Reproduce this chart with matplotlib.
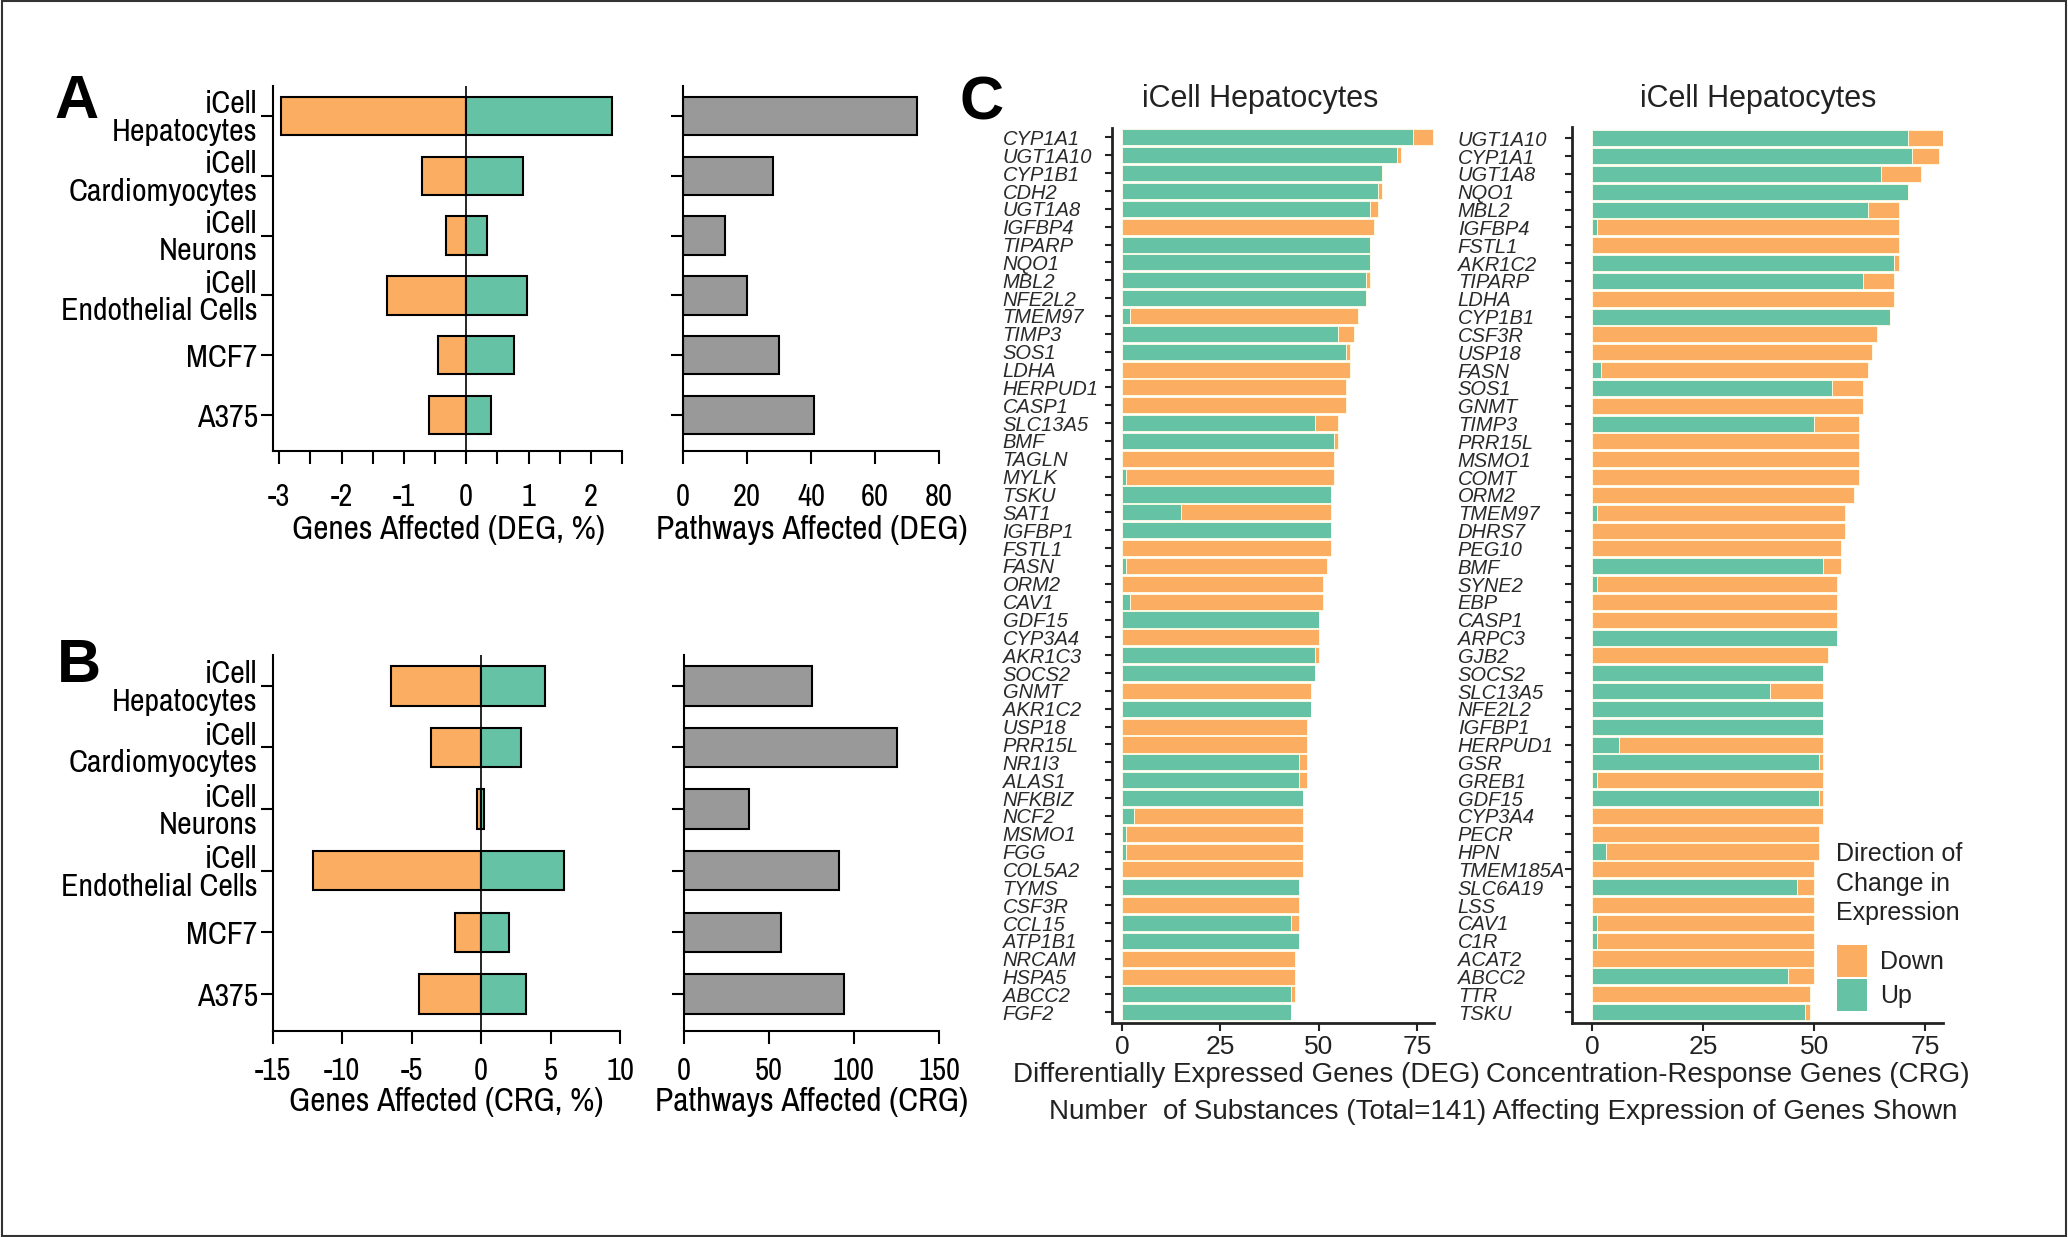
import matplotlib
matplotlib.use('Agg')
import matplotlib.pyplot as plt
import numpy as np
from matplotlib.patches import Rectangle, Patch
from matplotlib.ticker import MultipleLocator

# ---------------- data ----------------
cell_lines = ['iCell\nHepatocytes', 'iCell\nCardiomyocytes', 'iCell\nNeurons',
              'iCell\nEndothelial Cells', 'MCF7', 'A375']
deg_down_pct = [-2.97, -0.71, -0.33, -1.27, -0.45, -0.59]
deg_up_pct = [2.34, 0.91, 0.34, 0.98, 0.77, 0.40]
deg_pathways = [73, 28, 13, 20, 30, 41]
crg_down_pct = [-6.5, -3.6, -0.3, -12.1, -1.9, -4.5]
crg_up_pct = [4.6, 2.9, 0.2, 6.0, 2.0, 3.2]
crg_pathways = [75, 125, 38, 91, 57, 94]

deg_genes = ['CYP1A1', 'UGT1A10', 'CYP1B1', 'CDH2', 'UGT1A8', 'IGFBP4', 'TIPARP', 'NQO1',
             'MBL2', 'NFE2L2', 'TMEM97', 'TIMP3', 'SOS1', 'LDHA', 'HERPUD1', 'CASP1',
             'SLC13A5', 'BMF', 'TAGLN', 'MYLK', 'TSKU', 'SAT1', 'IGFBP1', 'FSTL1', 'FASN',
             'ORM2', 'CAV1', 'GDF15', 'CYP3A4', 'AKR1C3', 'SOCS2', 'GNMT', 'AKR1C2', 'USP18',
             'PRR15L', 'NR1I3', 'ALAS1', 'NFKBIZ', 'NCF2', 'MSMO1', 'FGG', 'COL5A2', 'TYMS',
             'CSF3R', 'CCL15', 'ATP1B1', 'NRCAM', 'HSPA5', 'ABCC2', 'FGF2']
deg_up = [74, 70, 66, 65, 63, 0, 63, 63, 62, 62, 2, 55, 57, 0, 0, 0, 49, 54, 0, 1,
          53, 15, 53, 0, 1, 0, 2, 50, 0, 49, 49, 0, 48, 0, 0, 45, 45, 46, 3, 1,
          1, 0, 45, 0, 43, 45, 0, 0, 43, 43]
deg_down = [5, 1, 0, 1, 2, 64, 0, 0, 1, 0, 58, 4, 1, 58, 57, 57, 6, 1, 54, 53,
            0, 38, 0, 53, 51, 51, 49, 0, 50, 1, 0, 48, 0, 47, 47, 2, 2, 0, 43, 45,
            45, 46, 0, 45, 2, 0, 44, 44, 1, 0]

crg_genes = ['UGT1A10', 'CYP1A1', 'UGT1A8', 'NQO1', 'MBL2', 'IGFBP4', 'FSTL1', 'AKR1C2',
             'TIPARP', 'LDHA', 'CYP1B1', 'CSF3R', 'USP18', 'FASN', 'SOS1', 'GNMT', 'TIMP3',
             'PRR15L', 'MSMO1', 'COMT', 'ORM2', 'TMEM97', 'DHRS7', 'PEG10', 'BMF', 'SYNE2',
             'EBP', 'CASP1', 'ARPC3', 'GJB2', 'SOCS2', 'SLC13A5', 'NFE2L2', 'IGFBP1',
             'HERPUD1', 'GSR', 'GREB1', 'GDF15', 'CYP3A4', 'PECR', 'HPN', 'TMEM185A',
             'SLC6A19', 'LSS', 'CAV1', 'C1R', 'ACAT2', 'ABCC2', 'TTR', 'TSKU']
crg_up = [71, 72, 65, 71, 62, 1, 0, 68, 61, 0, 67, 0, 0, 2, 54, 0, 50, 0, 0, 0,
          0, 1, 0, 0, 52, 1, 0, 0, 55, 0, 52, 40, 52, 52, 6, 51, 1, 51, 0, 0,
          3, 0, 46, 0, 1, 1, 0, 44, 0, 48]
crg_down = [8, 6, 9, 0, 7, 68, 69, 1, 7, 68, 0, 64, 63, 60, 7, 61, 10, 60, 60, 60,
            59, 56, 57, 56, 4, 54, 55, 55, 0, 53, 0, 12, 0, 0, 46, 1, 51, 1, 52, 51,
            48, 50, 4, 50, 49, 49, 50, 6, 49, 1]

ORANGE = '#FBAD62'
GREEN = '#66C2A5'
GRAY = '#999999'
NARROW = ['Archivo Narrow', 'Liberation Sans', 'DejaVu Sans']
REG = ['Liberation Sans', 'DejaVu Sans']
plt.rcParams['font.family'] = REG
plt.rcParams['axes.unicode_minus'] = False

W, H = 2068, 1237
fig = plt.figure(figsize=(W / 100, H / 100), dpi=100)


def rect(x0, y0, x1, y1):
    return [x0 / W, 1 - y1 / H, (x1 - x0) / W, (y1 - y0) / H]


def ftext(x, y, s, **kw):
    return fig.text(x / W, 1 - y / H, s, **kw)


def style_ab(ax, labelpad):
    for s in ['top', 'right']:
        ax.spines[s].set_visible(False)
    for s in ['left', 'bottom']:
        ax.spines[s].set_linewidth(1.5)
    ax.tick_params(axis='both', which='both', direction='out', length=9, width=1.5,
                   color='black')
    ax.tick_params(axis='x', which='both', pad=labelpad)
    for t in ax.get_xticklabels():
        t.set_fontfamily(NARROW)
        t.set_fontsize(22)


def diverging(ax, down, up, xlim, major, minor, ypad):
    y = np.arange(len(cell_lines))
    ax.barh(y, down, height=0.64, color=ORANGE, edgecolor='black', linewidth=1.5, zorder=2)
    ax.barh(y, up, height=0.64, color=GREEN, edgecolor='black', linewidth=1.5, zorder=2)
    ax.axvline(0, color='black', linewidth=1.2, zorder=3)
    ax.set_xlim(*xlim)
    ax.set_ylim(5.6, -0.5)
    ax.xaxis.set_major_locator(MultipleLocator(major))
    if minor:
        ax.xaxis.set_minor_locator(MultipleLocator(minor))
    ax.set_yticks(y)
    ax.set_yticklabels(cell_lines)
    style_ab(ax, ypad)
    ax.tick_params(axis='y', length=9, pad=2)
    for t in ax.get_yticklabels():
        t.set_fontfamily(NARROW)
        t.set_fontsize(23)
        t.set_linespacing(0.97)
        t.set_multialignment('right')


def pathways(ax, vals, xlim, major, ypad):
    y = np.arange(len(cell_lines))
    ax.barh(y, vals, height=0.64, color=GRAY, edgecolor='black', linewidth=1.5, zorder=2)
    ax.set_xlim(*xlim)
    ax.set_ylim(5.6, -0.5)
    ax.xaxis.set_major_locator(MultipleLocator(major))
    ax.set_yticks(y)
    ax.set_yticklabels([''] * len(y))
    style_ab(ax, ypad)


# ---------------- Panel A ----------------
axA1 = fig.add_axes(rect(273, 86, 622, 451))
diverging(axA1, deg_down_pct, deg_up_pct, (-3.1, 2.5), 1, 0.5, 14)
axA2 = fig.add_axes(rect(683, 86, 939, 451))
pathways(axA2, deg_pathways, (0, 80), 20, 14)
ftext(448, 530, 'Genes Affected (DEG, %)', ha='center', va='center', fontsize=24,
      family=NARROW)
ftext(812, 530, 'Pathways Affected (DEG)', ha='center', va='center', fontsize=24,
      family=NARROW)

# ---------------- Panel B ----------------
axB1 = fig.add_axes(rect(273, 655, 620, 1031))
diverging(axB1, crg_down_pct, crg_up_pct, (-15, 10), 5, None, 10)
axB2 = fig.add_axes(rect(684, 655, 939, 1031))
pathways(axB2, crg_pathways, (0, 150), 50, 10)
ftext(446, 1102, 'Genes Affected (CRG, %)', ha='center', va='center', fontsize=24,
      family=NARROW)
ftext(812, 1102, 'Pathways Affected (CRG)', ha='center', va='center', fontsize=24,
      family=NARROW)


# ---------------- Panel C ----------------
def stacked(ax, genes, up, down, xlim, ylim, label_pad):
    y = np.arange(len(genes))
    ax.barh(y, up, height=0.9, color=GREEN, edgecolor='#FFFDE6', linewidth=0.6, zorder=2)
    ax.barh(y, down, left=up, height=0.9, color=ORANGE, edgecolor='#FFFDE6',
            linewidth=0.6, zorder=2)
    ax.set_xlim(*xlim)
    ax.set_ylim(*ylim)
    ax.set_yticks(y)
    ax.set_yticklabels(genes, fontsize=14.5, style='italic', color='#2a2a2a', ha='left')
    ax.set_xticks([0, 25, 50, 75])
    for s in ['top', 'right']:
        ax.spines[s].set_visible(False)
    for s in ['left', 'bottom']:
        ax.spines[s].set_linewidth(2)
        ax.spines[s].set_color('#222222')
    ax.tick_params(axis='y', length=5, width=1.5, color='#222222', pad=label_pad)
    ax.tick_params(axis='x', length=6, width=1.5, color='#222222', pad=3,
                   labelsize=19, labelcolor='#222222')


axC1 = fig.add_axes(rect(1111.7, 128, 1434, 1023))
stacked(axC1, deg_genes, deg_up, deg_down, (-2.6, 79.3), (49.6, -0.53), 73.5)
axC2 = fig.add_axes(rect(1571.7, 126.7, 1942.7, 1022.7))
stacked(axC2, crg_genes, crg_up, crg_down, (-4.65, 78.9), (49.6, -0.65), 77)

ftext(1260, 99, 'iCell Hepatocytes', ha='center', va='center', fontsize=22, color='#222222')
ftext(1758, 99, 'iCell Hepatocytes', ha='center', va='center', fontsize=22, color='#222222')
ftext(1246, 1075, 'Differentially Expressed Genes (DEG)', ha='center', va='center',
      fontsize=20, color='#222222')
ftext(1728, 1075, 'Concentration-Response Genes (CRG)', ha='center', va='center',
      fontsize=20, color='#222222')
ftext(1503, 1112, 'Number  of Substances (Total=141) Affecting Expression of Genes Shown',
      ha='center', va='center', fontsize=20, color='#222222')

# legend
ftext(1836, 842, 'Direction of\nChange in\nExpression', ha='left', va='top',
      fontsize=18, color='#222222', linespacing=1.3)
leg = axC2.legend(handles=[Patch(facecolor=ORANGE, label='Down'),
                           Patch(facecolor=GREEN, label='Up')],
                  loc='upper left', bbox_to_anchor=(1836.5 / W, 1 - 945 / H),
                  bbox_transform=fig.transFigure, frameon=False, fontsize=18,
                  handlelength=1.2, handleheight=1.59, handletextpad=0.55,
                  labelspacing=0.08, borderpad=0, borderaxespad=0)
for t in leg.get_texts():
    t.set_color('#222222')

# panel letters
ftext(77, 103, 'A', ha='center', va='center', fontsize=44, fontweight='bold')
ftext(79, 667, 'B', ha='center', va='center', fontsize=44, fontweight='bold')
ftext(982, 104, 'C', ha='center', va='center', fontsize=44, fontweight='bold')

# figure border
fig.patches.append(Rectangle((0.001, 0.001), 0.998, 0.998, transform=fig.transFigure,
                             fill=False, edgecolor='#333333', linewidth=1.5))

fig.savefig('out.png', dpi=100)
